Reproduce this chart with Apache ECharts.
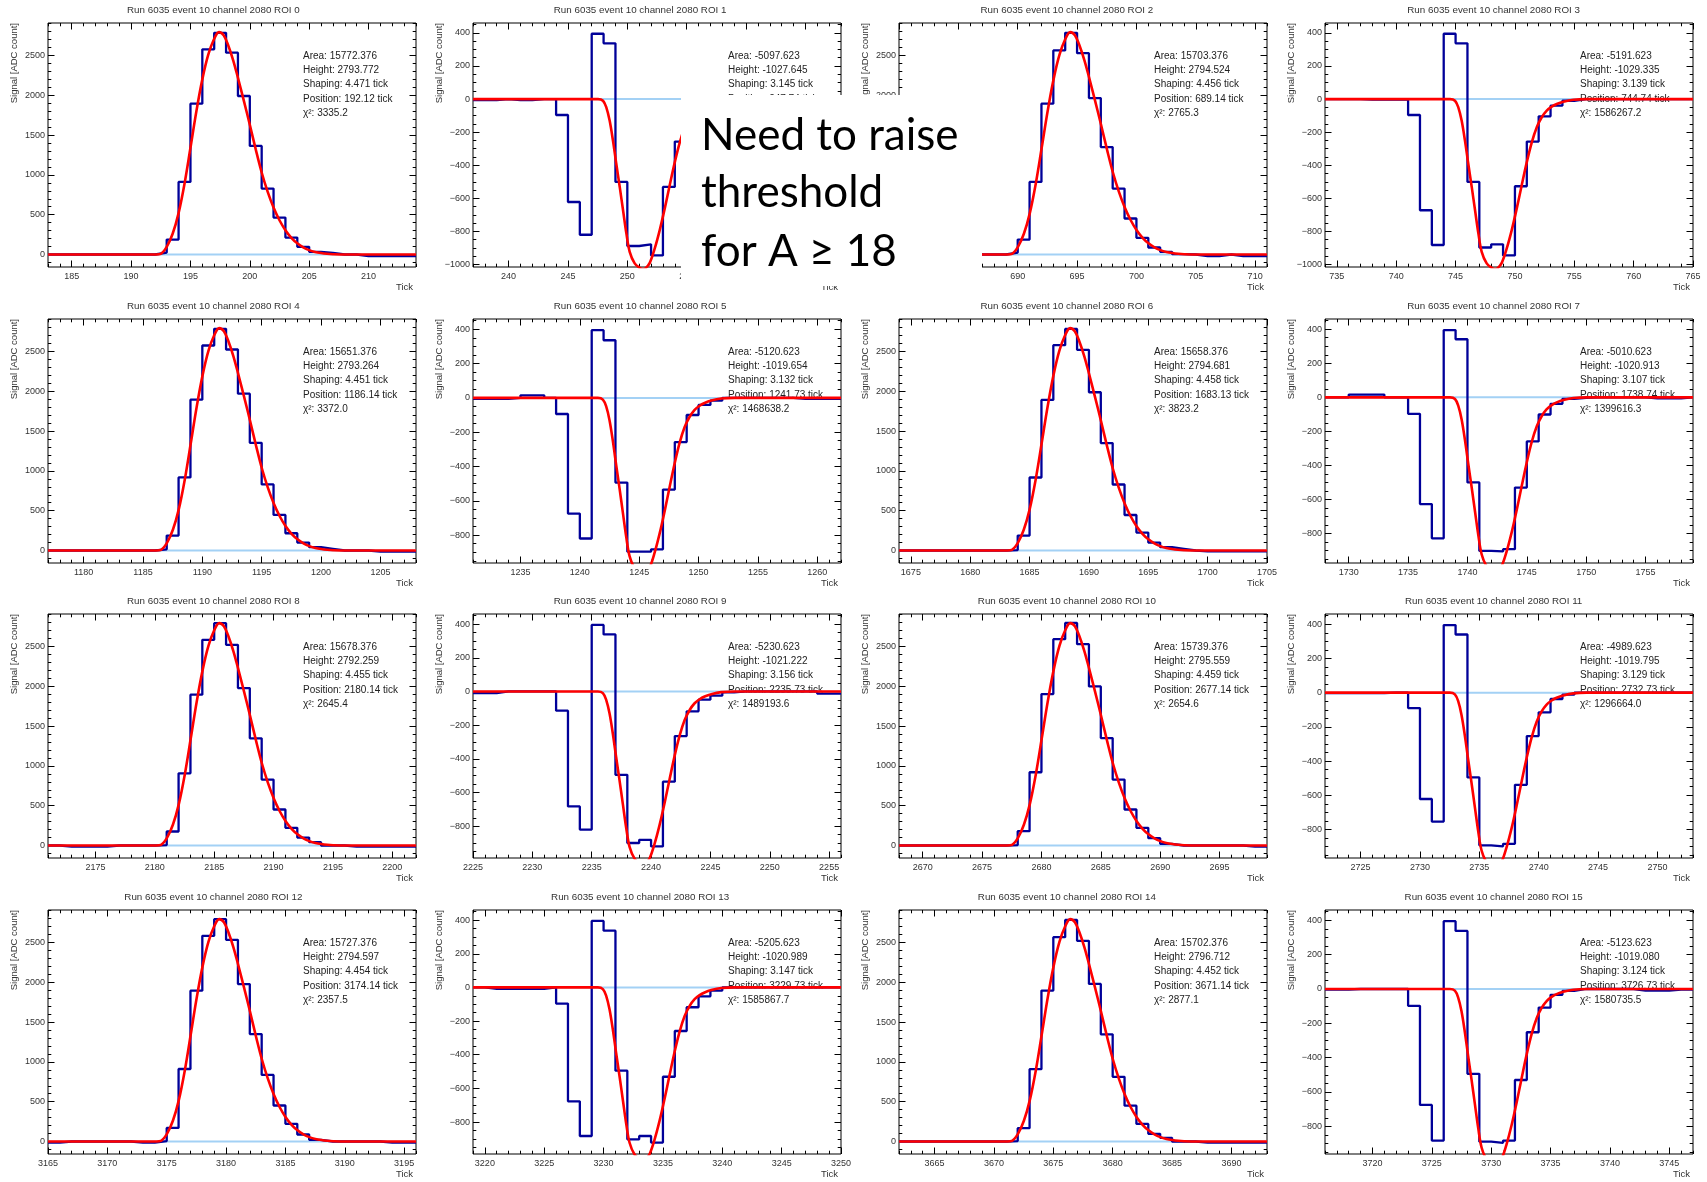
<!DOCTYPE html>
<html><head><meta charset="utf-8">
<script src="https://cdn.jsdelivr.net/npm/echarts@6/dist/echarts.min.js"></script>
<style>html,body{margin:0;padding:0;background:#fff}#c{width:1707px;height:1182px}</style>
</head><body><div id="c"></div>
<script>
// ---------------- data ----------------
const roiIds = [0,1,2,3,4,5,6,7,8,9,10,11,12,13,14,15];
const xMin = [183, 237, 680, 734, 1177, 1231, 1674, 1728, 2171, 2225, 2668, 2722, 3165, 3219, 3662, 3716];
const xMax = [214, 268, 711, 765, 1208, 1262, 1705, 1759, 2202, 2256, 2699, 2753, 3196, 3250, 3693, 3747];
const yMin = [-157, -1015, -157, -1015, -157, -963, -157, -973, -157, -989, -157, -967, -157, -990, -157, -961];
const yMax = [2908, 460, 2908, 460, 2908, 460, 2908, 460, 2908, 460, 2908, 460, 2908, 460, 2908, 460];
const yTicksPos = [0, 500, 1000, 1500, 2000, 2500];
const yTicksNeg = [-1000, -800, -600, -400, -200, 0, 200, 400];

// histogram contents, one value per tick bin starting at xMin
const adc0  = [0,0,0,0,0,0,0,0,0, 25,188,912,1894,2577,2785,2535,1991,1364,828,464,213,96,33,20, 0,0, -20,-20,-20,-20,-20];
const adc1  = [-6,-6,0,-6,-6,0,0, -96,-622,-820,395,337,-501,-888,-878,-945,-531,-257,-104,-40,-10, 0,0,0,0,0,0,0,0,0,0];
const adc2  = [0,0,0,0,0,0,0,0,0, 25,188,912,1894,2563,2785,2529,1965,1350,828,452,209,88,33,5,0, -20,-20,0,-20,-20,-20];
const adc3  = [0,0,0,-3,-3,-3,-3, -96,-672,-882,395,337,-501,-897,-878,-945,-527,-257,-104,-40,-10, 0,0,0,0,0,0,0,0,0,0];
const adc4  = [0,0,0,0,0,0,0,0,0, 15,188,918,1895,2575,2784,2525,1970,1352,830,447,217,100,42,21, 0,0,0, -13,-13,-13,-13];
const adc5  = [-5,-5,-5,0,15,15,0, -94,-675,-820,395,336,-494,-897,-897,-883,-535,-258,-100,-41,-16, 0,0,0,0,0,0, -6,-6,-6,-6];
const adc6  = [0,0,0,0,0,0,0,0,0, 5,188,917,1892,2579,2783,2521,1988,1350,829,446,225,100,42,21, 0, -12,-12,-12,-12,-12,-12];
const adc7  = [0,0,16,16,16,0,0, -97,-627,-828,395,341,-500,-902,-905,-892,-530,-259,-101,-38,-9,-3, 0,0,0,0,0, -6,-6,-6, 0];
const adc8  = [0,-13,-13,-13,-13,0,0,0,0, 5,176,907,1894,2584,2793,2521,1977,1346,828,452,222,100,42, 0,0, -13,-13,-13,-13,-13,-13];
const adc9  = [-10,-10,0,0,0,0,0, -114,-683,-820,395,339,-495,-900,-881,-920,-536,-265,-118,-49,-25,-5, 0,0,0,0,0,0,0, -13,-13];
const adc10 = [0,0,0,0,0,0,0,0,0, 5,180,920,1902,2592,2795,2529,1998,1350,828,452,222,92,21, 0,0,0,0,0,0, -13,-13];
const adc11 = [-3,-3,-3,-3,-3,0,0, -90,-622,-754,395,340,-496,-893,-899,-884,-539,-254,-115,-37,-12, 0,0,0,0,0,0,0,0,0,0];
const adc12 = [-13,0,0,0,0,0,0,-13,-13, 5,171,911,1894,2584,2793,2533,1977,1350,836,452,222,88,21, 0,0,0,0,0, -13,-13,-13];
const adc13 = [0,-9,-9,-9,-9,-9,0, -96,-677,-883,395,337,-495,-903,-883,-922,-531,-259,-118,-53,-19, 0,0,0,0,0,0,0,0,0,0];
const adc14 = [0,0,0,0,0,0,0,0,0, 5,167,908,1896,2567,2783,2521,1979,1346,813,450,221,96,46, 0,0, -13,-13,-13,-13,-13,-13];
const adc15 = [-3,-3,0,0,0,0,0, -98,-675,-883,395,338,-494,-889,-896,-883,-530,-252,-108,-34,-11, 0,0,0,0,0, -9,-9,-9, -3,-3];

// fit parameters printed in each pad
const areaText  = ["15772.376","-5097.623","15703.376","-5191.623","15651.376","-5120.623","15658.376","-5010.623","15678.376","-5230.623","15739.376","-4989.623","15727.376","-5205.623","15702.376","-5123.623"];
const heightText= ["2793.772","-1027.645","2794.524","-1029.335","2793.264","-1019.654","2794.681","-1020.913","2792.259","-1021.222","2795.559","-1019.795","2794.597","-1020.989","2796.712","-1019.080"];
const shapeText = ["4.471","3.145","4.456","3.139","4.451","3.132","4.458","3.107","4.455","3.156","4.459","3.129","4.454","3.147","4.452","3.124"];
const posText   = ["192.12","247.74","689.14","744.74","1186.14","1241.73","1683.13","1738.74","2180.14","2235.73","2677.14","2732.73","3174.14","3229.73","3671.14","3726.73"];
const chi2Text  = ["3335.2",null,"2765.3","1586267.2","3372.0","1468638.2","3823.2","1399616.3","2645.4","1489193.6","2654.6","1296664.0","2357.5","1585867.7","2877.1","1580735.5"];

// fitted curve, x relative to the fitted Position
const posFitOffset = [0, 0.38, 0.88, 1.38, 1.88, 2.38, 2.88, 3.38, 3.88, 4.38, 4.88, 5.28, 5.68, 6.08, 6.48, 6.88, 7.38, 7.88, 8.38, 8.88, 9.38, 9.88, 10.38, 10.88, 11.38, 11.88, 12.38, 12.88, 13.38, 13.88, 14.38, 14.88, 15.88];
const posFitValue  = [0, 8, 95, 260, 520, 890, 1340, 1800, 2200, 2510, 2710, 2794, 2755, 2620, 2440, 2220, 1930, 1630, 1320, 1030, 790, 590, 430, 305, 210, 140, 90, 55, 32, 18, 9, 4, 0];
const negFitOffset = [-0.21, 0.21, 0.49, 0.77, 1.05, 1.33, 1.62, 1.90, 2.18, 2.46, 2.88, 3.30, 3.55, 3.80, 4.15, 4.57, 4.99, 5.41, 5.83, 6.26, 6.68, 7.10, 7.52, 7.94, 8.36, 8.78, 9.34, 10.18, 11.30];
const negFitValue  = [0, -10, -50, -130, -251, -391, -531, -672, -812, -923, -993, -1020, -1027, -1022, -990, -903, -792, -662, -521, -381, -261, -170, -110, -70, -46, -30, -16, -4, 0];

const noteLines = ["Need to raise", "threshold", "for A \u2265 18"];

// ---------------- layout ----------------
const adc = [adc0,adc1,adc2,adc3,adc4,adc5,adc6,adc7,adc8,adc9,adc10,adc11,adc12,adc13,adc14,adc15];
const colLeft = [48, 473, 899, 1325];
const rowTop = [23, 319, 614, 910];
const W = 368, H = 244;
const padW = 1707 / 4;
const FONT = '"Liberation Sans", Arial, Helvetica, sans-serif';
const TXT = '#222';

function range(a, b, step) { const o = []; for (let v = Math.ceil(a / step) * step; v <= b + 1e-9; v += step) o.push(v); return o; }

const grid = [], xAxis = [], yAxis = [], series = [], elements = [];

roiIds.forEach(i => {
  const r = i >> 2, c = i & 3, neg = i % 2 === 1;
  const L = colLeft[c], T = rowTop[r];
  grid.push({ left: L, top: T, width: W, height: H, show: true, borderColor: '#000', borderWidth: 1,
              backgroundColor: 'transparent', containLabel: false, outerBoundsMode: 'none' });
  const xMaj = range(xMin[i], xMax[i], 5), xMinr = range(xMin[i], xMax[i], 1);
  const yMaj = (neg ? yTicksNeg : yTicksPos).filter(v => v >= yMin[i] && v <= yMax[i]);
  const yMinr = range(yMin[i], yMax[i], neg ? 50 : 100);
  const base = { gridIndex: i, type: 'value', splitLine: { show: false }, axisLine: { show: false, onZero: false } };
  const tick = (vals, len) => ({ show: true, inside: true, length: len, customValues: vals, lineStyle: { color: '#000', width: 1 } });
  const xb = Object.assign({}, base, { min: xMin[i], max: xMax[i] });
  xAxis.push(Object.assign({}, xb, { position: 'bottom', axisTick: tick(xMaj, 6.5),
      axisLabel: { show: true, customValues: xMaj, fontSize: 9, color: '#333', fontFamily: FONT, margin: 5,
                   formatter: v => String(v) } }));
  xAxis.push(Object.assign({}, xb, { position: 'bottom', axisTick: tick(xMinr, 3.3), axisLabel: { show: false } }));
  xAxis.push(Object.assign({}, xb, { position: 'top', axisTick: tick(xMaj, 6.5), axisLabel: { show: false } }));
  xAxis.push(Object.assign({}, xb, { position: 'top', axisTick: tick(xMinr, 3.3), axisLabel: { show: false } }));
  const yb = Object.assign({}, base, { min: yMin[i], max: yMax[i] });
  yAxis.push(Object.assign({}, yb, { position: 'left', axisTick: tick(yMaj, 6.5),
      axisLabel: { show: true, customValues: yMaj, fontSize: 9, color: '#333', fontFamily: FONT, margin: 3,
                   formatter: v => String(v).replace('-', '\u2212') } }));
  yAxis.push(Object.assign({}, yb, { position: 'left', axisTick: tick(yMinr, 3.3), axisLabel: { show: false } }));
  yAxis.push(Object.assign({}, yb, { position: 'right', axisTick: tick(yMaj, 6.5), axisLabel: { show: false } }));
  yAxis.push(Object.assign({}, yb, { position: 'right', axisTick: tick(yMinr, 3.3), axisLabel: { show: false } }));

  const xi = 4 * i, yi = 4 * i;
  series.push({ type: 'line', xAxisIndex: xi, yAxisIndex: yi, data: [[xMin[i], 0], [xMax[i], 0]],
      symbol: 'none', silent: true, z: 1, lineStyle: { color: '#a3d1f5', width: 2 } });
  const h = adc[i].map((v, k) => [xMin[i] + k, v]); h.push([xMax[i], adc[i][adc[i].length - 1]]);
  series.push({ type: 'line', xAxisIndex: xi, yAxisIndex: yi, data: h, step: 'end', symbol: 'none', silent: true, z: 2,
      lineStyle: { color: '#000099', width: 2.3 } });
  const p = parseFloat(posText[i]);
  const offs = neg ? negFitOffset : posFitOffset, fv = neg ? negFitValue : posFitValue;
  const f = [[xMin[i], 0]].concat(offs.map((o, k) => [p + o, fv[k]])).concat([[xMax[i], 0]]);
  series.push({ type: 'line', xAxisIndex: xi, yAxisIndex: yi, data: f, smooth: 0.35, symbol: 'none', silent: true, z: 3, clip: true,
      lineStyle: { color: '#ff0000', width: 2.6 } });

  const txt = (x, y, s, size, align, fill, extra) => Object.assign({ type: 'text', x: x, y: y, z: 0, silent: true,
      style: { text: s, fontSize: size, fontFamily: FONT, fill: fill || TXT, align: align, textAlign: align,
               verticalAlign: 'middle', textVerticalAlign: 'middle' } }, extra || {});
  elements.push(txt(c * padW + padW / 2, T - 12.5, 'Run 6035 event 10 channel 2080 ROI ' + i, 9.8, 'center', '#333'));
  elements.push(txt(L - 34, T, 'Signal [ADC count]', 9.5, 'right', '#333', { rotation: Math.PI / 2 }));
  elements.push(txt(L + W - 3, T + H + 20, 'Tick', 9.5, 'right', '#333'));
  const lines = ['Area: ' + areaText[i], 'Height: ' + heightText[i], 'Shaping: ' + shapeText[i] + ' tick',
                 'Position: ' + posText[i] + ' tick'];
  if (chi2Text[i] !== null) lines.push('\u03c7\u00b2: ' + chi2Text[i]);
  const dy = [33, 47, 61.5, 76, 90];
  lines.forEach((s, k) => elements.push(txt(L + 255, T + dy[k], s, 10, 'left')));
});

// overlay note
elements.push({ type: 'rect', z: 100, silent: true, shape: { x: 681, y: 95, width: 301, height: 191 }, style: { fill: '#fff' } });
const noteY = [136, 193, 251.5];
noteLines.forEach((s, k) => elements.push({ type: 'text', z: 101, silent: true, x: 701, y: noteY[k],
  style: { text: s, fontSize: 44, fontFamily: 'Lato, "Open Sans", sans-serif', fill: '#000',
           align: 'left', textAlign: 'left', verticalAlign: 'middle', textVerticalAlign: 'middle' } }));

const chart = echarts.init(document.getElementById('c'), null, { renderer: 'canvas' });
chart.setOption({ animation: false, backgroundColor: '#fff', grid, xAxis, yAxis, series, graphic: { elements } });
</script></body></html>
